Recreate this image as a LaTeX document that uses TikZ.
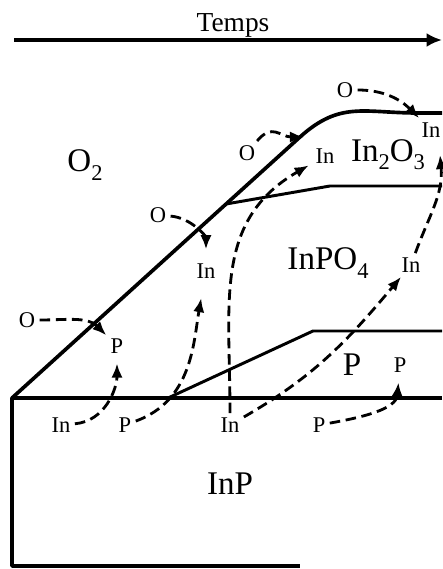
\documentclass[tikz,border=0pt]{standalone}
\usepackage{fontspec}
\setmainfont{Liberation Serif}
\usetikzlibrary{arrows.meta}

\newcommand\lowsub[1]{\raisebox{-0.55ex}{\fontsize{16}{18}\selectfont #1}}

\begin{document}
\begin{tikzpicture}[x=0.025cm, y=0.025cm,
  phase/.style={font=\fontsize{23.5}{26}\selectfont, inner sep=1pt},
  ion/.style={font=\fontsize{16}{18}\selectfont, inner sep=3pt},
  layer/.style={line width=2.1pt, line join=round},
  front/.style={line width=2.6pt, line join=round},
  flux/.style={line width=2pt, dash pattern=on 7.5pt off 4pt, -{Latex[length=10pt,width=8pt]}}]

\useasboundingbox (0,0) rectangle (442,-569);

% Time axis
\coordinate (t0) at (14,-40);
\coordinate (t1) at (442,-40);
\draw[line width=2.4pt, -{Latex[length=11pt,width=10pt]}] (t0) -- (t1);
\node[font=\fontsize{19.5}{22}\selectfont] (temps) at (233,-25) {Temps};

% Substrate and oxide fronts
\draw[front] (442,-398) -- (12,-398) -- (12,-566) -- (300,-566);
\draw[front] (12,-398) -- (300,-137) to[out=42,in=180,looseness=1.15] (418,-113) -- (442,-113);
\draw[layer] (226,-204) -- (330,-186) -- (442,-186);
\draw[layer] (168,-398) -- (313,-331) -- (442,-331);

% Phases
\node[phase] (o2) at (85,-165) {O\lowsub{2}};
\node[phase] (ino) at (388,-155) {In\lowsub{2}O\lowsub{3}};
\node[phase] (inpo) at (328,-263) {InPO\lowsub{4}};
\node[phase] (pl) at (352,-365) {P};
\node[phase] (inp) at (230,-484) {InP};

% Species
\node[ion] (oA) at (27,-320) {O};
\node[ion] (pA) at (117,-346) {P};
\node[ion] (inA) at (61,-425) {In};
\node[ion] (pB) at (125,-425) {P};
\node[ion] (inB) at (206,-271) {In};
\node[ion] (oB) at (158,-215) {O};
\node[ion] (oC) at (247,-153) {O};
\node[ion] (inC) at (325,-156) {In};
\node[ion] (inD) at (230,-425) {In};
\node[ion] (inE) at (411,-265) {In};
\node[ion] (inF) at (431,-130) {In};
\node[ion] (oF) at (345,-90) {O};
\node[ion] (pG) at (319,-425) {P};
\node[ion] (pH) at (400,-365) {P};

\coordinate (tipC) at (304,-137);
\coordinate (tipF) at (440,-155);

% Diffusion paths
\draw[flux] (oA) to[out=0,in=135] (pA);
\draw[flux, shorten >=4pt] (inA) to[out=5,in=-90] (pA);
\draw[flux, shorten >=11pt] (pB) to[out=20,in=-100] (inB);
\draw[flux, shorten >=7pt] (oB) to[out=-5,in=90] (inB);
\draw[flux] (oC) to[out=50,in=180,looseness=1.3] (tipC);
\draw[flux, shorten >=2pt] (inD) to[out=90,in=210,looseness=1.1] (inC);
\draw[flux] (inD) to[out=30,in=-130] (inE);
\draw[flux] (inE) to[out=70,in=-85] (tipF);
\draw[flux] (oF) to[out=0,in=135] (inF);
\draw[flux, shorten >=4pt] (pG) to[out=10,in=-95] (pH);

\end{tikzpicture}
\end{document}
